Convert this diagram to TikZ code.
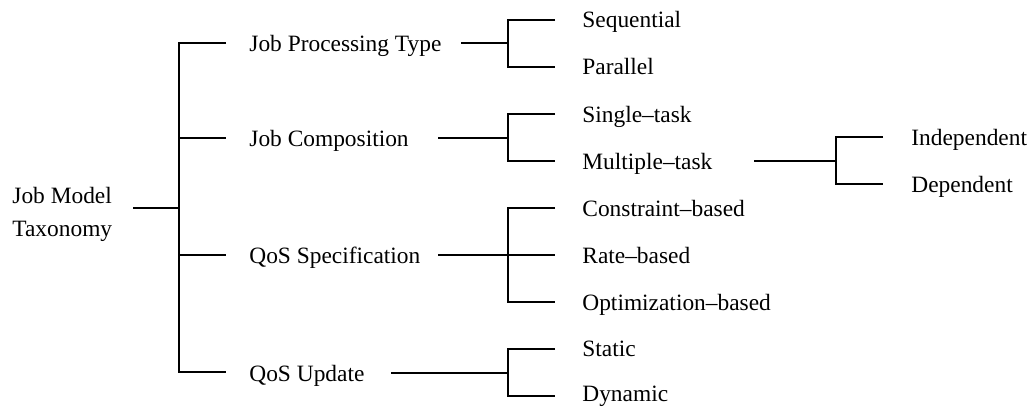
\documentclass[tikz,border=0pt]{standalone}
\usepackage{fontspec}
\setmainfont{Liberation Serif}
\begin{document}
\begin{tikzpicture}[x=0.5pt,y=-0.5pt,
  lbl/.style={anchor=base west,inner sep=0pt,font=\fontsize{11.7}{16.5}\selectfont},
  link/.style={line width=0.55pt,black}]
\useasboundingbox (0,0) rectangle (1030,407);

% root
\node[lbl,anchor=west,align=left] (root) at (12,214) {Job Model\\Taxonomy};

% first level (baselines sit about 8px below the connector level)
\node[lbl] (jpt) at (249,51)  {Job Processing Type};
\node[lbl] (jc)  at (249,146) {Job Composition};
\node[lbl] (qs)  at (249,263) {QoS Specification};
\node[lbl] (qu)  at (249,381) {QoS Update};

% second level
\node[lbl] (seq) at (582,27)  {Sequential};
\node[lbl] (par) at (582,75)  {Parallel};
\node[lbl] (st)  at (582,122) {Single--task};
\node[lbl] (mt)  at (582,169) {Multiple--task};
\node[lbl] (cb)  at (582,216) {Constraint--based};
\node[lbl] (rb)  at (582,263) {Rate--based};
\node[lbl] (ob)  at (582,310) {Optimization--based};
\node[lbl] (sta) at (582,356) {Static};
\node[lbl] (dyn) at (582,401) {Dynamic};

% third level
\node[lbl] (ind) at (911,145) {Independent};
\node[lbl] (dep) at (911,192) {Dependent};

% junctions and stub starts
\coordinate (r0) at (133,208);
\coordinate (s0) at (179,208);
\coordinate (k1) at (226,43);  \coordinate (k2) at (226,138);
\coordinate (k3) at (226,255); \coordinate (k4) at (226,372);
\coordinate (a1) at (461,43);  \coordinate (j1) at (508,43);
\coordinate (a2) at (438,138); \coordinate (j2) at (508,138);
\coordinate (a3) at (438,255); \coordinate (j3) at (508,255);
\coordinate (a4) at (391,373); \coordinate (j4) at (508,373);
\coordinate (a5) at (754,161); \coordinate (j5) at (836,161);
\coordinate (e1) at (555,0);   \coordinate (e2) at (883,0);

% root bracket
\draw[link] (r0) -- (s0);
\draw[link] (k1) -| (s0) |- (k4);
\draw[link] (s0 |- k2) -- (k2);
\draw[link] (s0 |- k3) -- (k3);

% job processing type
\draw[link] (a1) -- (j1);
\draw[link] (e1 |- 0,20) -| (j1) |- (e1 |- 0,67);

% job composition
\draw[link] (a2) -- (j2);
\draw[link] (e1 |- 0,114) -| (j2) |- (e1 |- 0,161);

% qos specification
\draw[link] (a3) -- (j3);
\draw[link] (e1 |- 0,208) -| (j3) |- (e1 |- 0,302);
\draw[link] (j3) -- (e1 |- j3);

% qos update
\draw[link] (a4) -- (j4);
\draw[link] (e1 |- 0,349) -| (j4) |- (e1 |- 0,396);

% multiple-task
\draw[link] (a5) -- (j5);
\draw[link] (e2 |- 0,137) -| (j5) |- (e2 |- 0,184);
\end{tikzpicture}
\end{document}
